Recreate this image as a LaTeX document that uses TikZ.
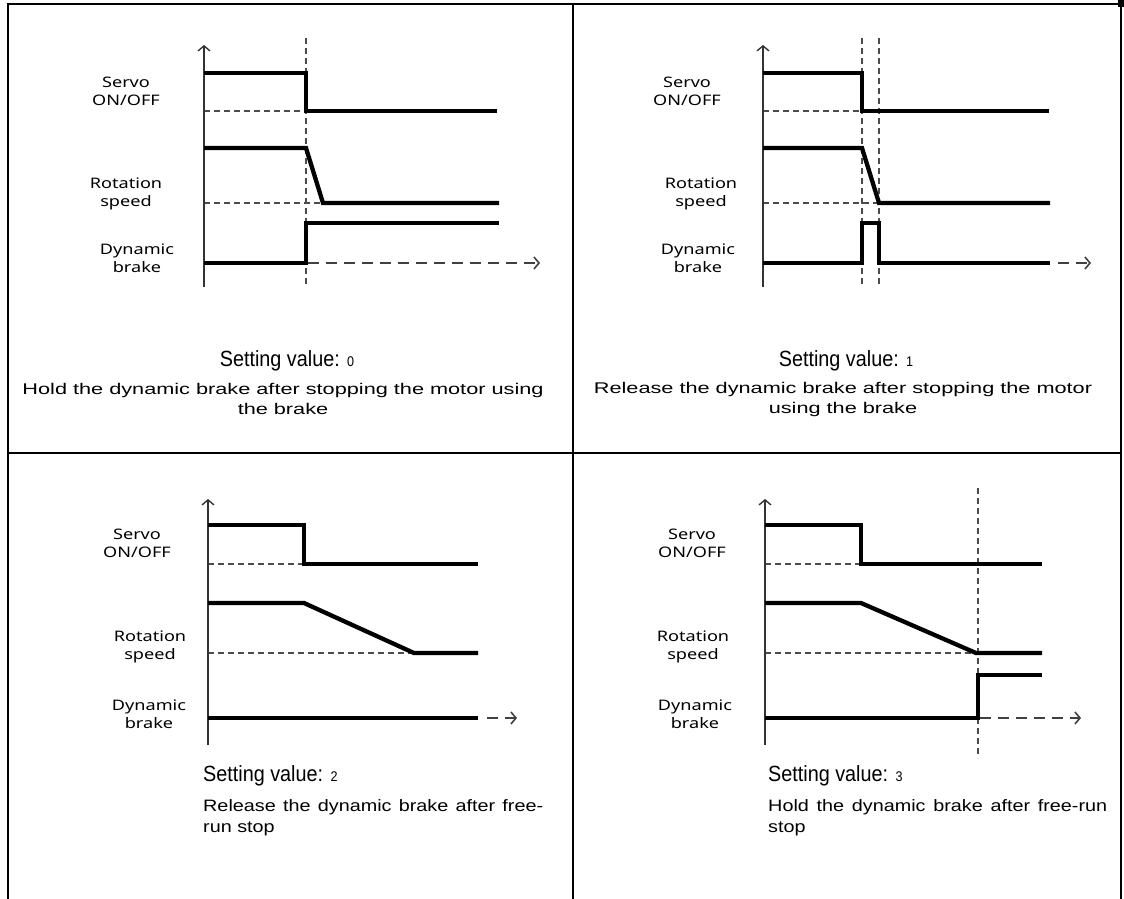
\documentclass[tikz,border=0pt]{standalone}
\usepackage{fontspec}
\setmainfont{Liberation Sans}[FakeStretch=1.4]
\newfontfamily\botfont{Liberation Sans}[FakeStretch=1.2]
\newfontfamily\setfont{Liberation Sans}[FakeStretch=0.9]
\newfontfamily\lblfont{Noto Sans}[FakeStretch=1.25]
\usetikzlibrary{arrows.meta}
\begin{document}
\begin{tikzpicture}[x=1pt,y=-1pt,
  frame/.style={line width=2pt},
  sig/.style={line width=4.3pt, line join=miter, line cap=butt},
  guide/.style={line width=1.1pt, dash pattern=on 6pt off 4pt, draw=black!70},
  axisline/.style={line width=1.4pt, draw=black!80, -{Straight Barb[length=5pt,width=12pt,line width=1.4pt]}},
  tline/.style={line width=1.6pt, draw=black!75, dash pattern=on 11pt off 7pt, -{Straight Barb[length=5pt,width=12pt,line width=1.6pt]}},
  lbl/.style={font=\lblfont\fontsize{14.5}{18}\selectfont, align=center, inner sep=0pt},
  setv/.style={font=\setfont\fontsize{22}{24}\selectfont, inner sep=0pt},
  desc/.style={font=\fontsize{15.5}{20}\selectfont, align=center, inner sep=0pt},
  descl/.style={font=\botfont\fontsize{16.5}{21}\selectfont, align=left, inner sep=0pt, anchor=north west}
]
\useasboundingbox (0,0) rectangle (1124,899);
% frame
\draw[frame] (7,4) -- (1122,4);
\draw[frame] (8,4) -- (8,899);
\draw[frame] (572.5,4) -- (572.5,899);
\draw[frame] (1121,0) -- (1121,899);
\draw[frame] (8,453) -- (1121,453);
\fill (1117.5,0) rectangle (1124,7);

% ---------- panel 0 (top left)
\draw[guide] (306,38) -- (306,287);
\draw[guide] (204,111) -- (306,111);
\draw[guide] (204,203) -- (323,203);
\draw[axisline] (204,287) -- (204,45);
\draw[sig] (204,73) -| (306,111) -- (497,111);
\draw[sig] (204,148) -- (306,148) -- (323,203) -- (499,203);
\draw[sig] (204,263) -| (306,223) -- (499,223);
\draw[tline] (308,263) -- (540,263);
\node[lbl] (a0s) at (126,91) {Servo\\ON/OFF};
\node[lbl] (a0r) at (126,194) {Rotation\\speed};
\node[lbl] (a0d) at (137,258.5) {Dynamic\\brake};
\node[setv] (s0) at (287,361) {Setting value: {\fontsize{14}{14}\selectfont 0}};
\node[desc] (d0) at (283,399) {Hold the dynamic brake after stopping the motor using\\the brake};

% ---------- panel 1 (top right)
\draw[guide] (862,38) -- (862,287);
\draw[guide] (879,38) -- (879,287);
\draw[guide] (763,111) -- (862,111);
\draw[guide] (763,203) -- (879,203);
\draw[axisline] (763,287) -- (763,45);
\draw[sig] (763,73) -| (862,111) -- (1049,111);
\draw[sig] (763,148) -- (862,148) -- (879,203) -- (1050,203);
\draw[sig] (763,263) -| (862,223) -| (879,263) -- (1050,263);
\draw[tline] (1058,263) -- (1091,263);
\node[lbl] (a1s) at (687,91) {Servo\\ON/OFF};
\node[lbl] (a1r) at (701,194) {Rotation\\speed};
\node[lbl] (a1d) at (698,258.5) {Dynamic\\brake};
\node[setv] (s1) at (846,361) {Setting value: {\fontsize{14}{14}\selectfont 1}};
\node[desc] (d1) at (843,399) {Release the dynamic brake after stopping the motor\\using the brake};

% ---------- panel 2 (bottom left)
\draw[guide] (208,564) -- (304,564);
\draw[guide] (208,653) -- (414,653);
\draw[axisline] (208,745) -- (208,499);
\draw[sig] (208,525) -| (304,564) -- (478,564);
\draw[sig] (208,603) -- (304,603) -- (414,653) -- (478,653);
\draw[sig] (208,718) -- (478,718);
\draw[tline] (487,718) -- (517,718);
\node[lbl] (a2s) at (137,543) {Servo\\ON/OFF};
\node[lbl] (a2r) at (150,647) {Rotation\\speed};
\node[lbl] (a2d) at (149,714) {Dynamic\\brake};
\node[setv, anchor=west] (s2) at (203,776) {Setting value: {\fontsize{14}{14}\selectfont 2}};
\node[descl, text width=340pt] (d2) at (203,799) {\hbox to 340pt{Release\hfill the\hfill dynamic\hfill brake\hfill after\hfill free-}\\run stop};

% ---------- panel 3 (bottom right)
\draw[guide] (978,488) -- (978,758);
\draw[guide] (765,564) -- (861,564);
\draw[guide] (765,653) -- (976,653);
\draw[axisline] (765,745) -- (765,499);
\draw[sig] (765,525) -| (861,564) -- (1042,564);
\draw[sig] (765,603) -- (861,603) -- (976,653) -- (1042,653);
\draw[sig] (765,718) -| (978,675) -- (1042,675);
\draw[tline] (980,718) -- (1081,718);
\node[lbl] (a3s) at (692,543) {Servo\\ON/OFF};
\node[lbl] (a3r) at (693,647) {Rotation\\speed};
\node[lbl] (a3d) at (695,714) {Dynamic\\brake};
\node[setv, anchor=west] (s3) at (768,776) {Setting value: {\fontsize{14}{14}\selectfont 3}};
\node[descl, text width=339pt] (d3) at (768,799) {\hbox to 339pt{Hold\hfill the\hfill dynamic\hfill brake\hfill after\hfill free-run}\\stop};
\end{tikzpicture}
\end{document}
